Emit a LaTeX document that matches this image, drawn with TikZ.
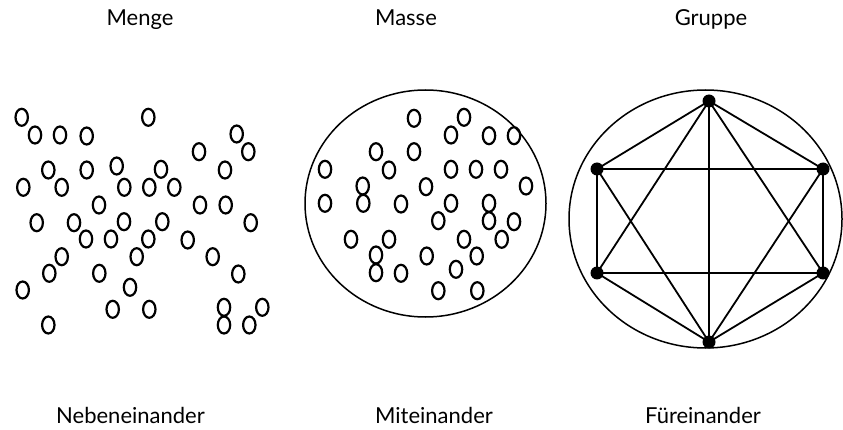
\documentclass[tikz,border=0pt]{standalone}
\usepackage{fontspec}
\setmainfont{Lato}
\usepackage{tikz}

\tikzset{
  oval/.style={line width=2.2pt},
  rand/.style={line width=1.5pt},
  punkt/.style={circle,fill=black,inner sep=0pt,minimum size=13pt},
  kante/.style={line width=1.8pt},
  titel/.style={anchor=base,font=\fontsize{22}{26}\selectfont}
}

\begin{document}
\begin{tikzpicture}[x=1pt,y=-1pt]
  \useasboundingbox (0,0) rectangle (843,430);

  % Menge
  \foreach \p in {(21.7,117.3),(35,135),(60,135),(86.7,136),(148.3,117.3),
    (236.7,134),(248.3,151.7),(199,151.7),(48.3,170),(86.7,170),(116.7,166),
    (161,169.3),(225,170),(23.3,187.3),(61.7,187.3),(124.3,187.3),(149.3,187.3),
    (174.3,187.3),(99,205),(200,205),(225.7,205),(36.7,222.7),(74,222.7),
    (124,221.7),(162.3,221.7),(250.7,222.7),(86,239),(111,239),(148.3,239),
    (187.7,240),(61.7,256.7),(136.7,256.7),(212.7,256.7),(49.3,273.3),
    (99.3,273.3),(238.3,274),(22.7,290),(130,287.3),(112.7,309.3),(149.3,309.3),
    (224,307.3),(262.3,307.3),(48.3,325),(224,325),(249.3,325)}
    \draw[oval] \p ellipse (6.2 and 8.5);

  % Masse
  \draw[rand] (425.5,203.5) ellipse (120.5 and 113.5);
  \foreach \p in {(414,118.3),(464,117.3),(451,135),(489,135.7),(514,135.7),
    (376,151.7),(414,151.7),(325,169.3),(389,170),(451,169.3),(476,169.3),
    (501,169.3),(362.7,186),(426,186.7),(526,186),(325,203.3),(363.3,203.3),
    (401,204),(451,203.3),(489,203.3),(438.3,220.7),(489,220.7),(514,221.7),
    (351,239.3),(389,239.3),(464,239.3),(501.7,239.3),(376,255),(426.7,256),
    (476.7,256),(376,272.7),(401,273.3),(456,269.3),(438.3,290.7),(477.3,290.7)}
    \draw[oval] \p ellipse (6.2 and 8.5);

  % Gruppe
  \draw[rand] (705.5,219) ellipse (136.5 and 129);
  \node[punkt] (o) at (709,101) {};
  \node[punkt] (lo) at (597,169) {};
  \node[punkt] (ro) at (823,169) {};
  \node[punkt] (lu) at (597,273) {};
  \node[punkt] (ru) at (823,273) {};
  \node[punkt] (u) at (709,342) {};
  \draw[kante] (o.center) -- (lo.center) -- (lu.center) -- (u.center)
    -- (ru.center) -- (ro.center) -- cycle;
  \draw[kante] (o.center) -- (lu.center) -- (ru.center) -- cycle;
  \draw[kante] (u.center) -- (lo.center) -- (ro.center) -- cycle;
  \draw[kante] (o.center) -- (u.center);

  \node[titel] (menge) at (140,25.5) {Menge};
  \node[titel] (masse) at (406,25.5) {Masse};
  \node[titel] (gruppe) at (711,25.5) {Gruppe};
  \node[titel] (neben) at (130.5,423) {Nebeneinander};
  \node[titel] (mit) at (434,423) {Miteinander};
  \node[titel] (fuer) at (703,423) {Füreinander};
\end{tikzpicture}
\end{document}
